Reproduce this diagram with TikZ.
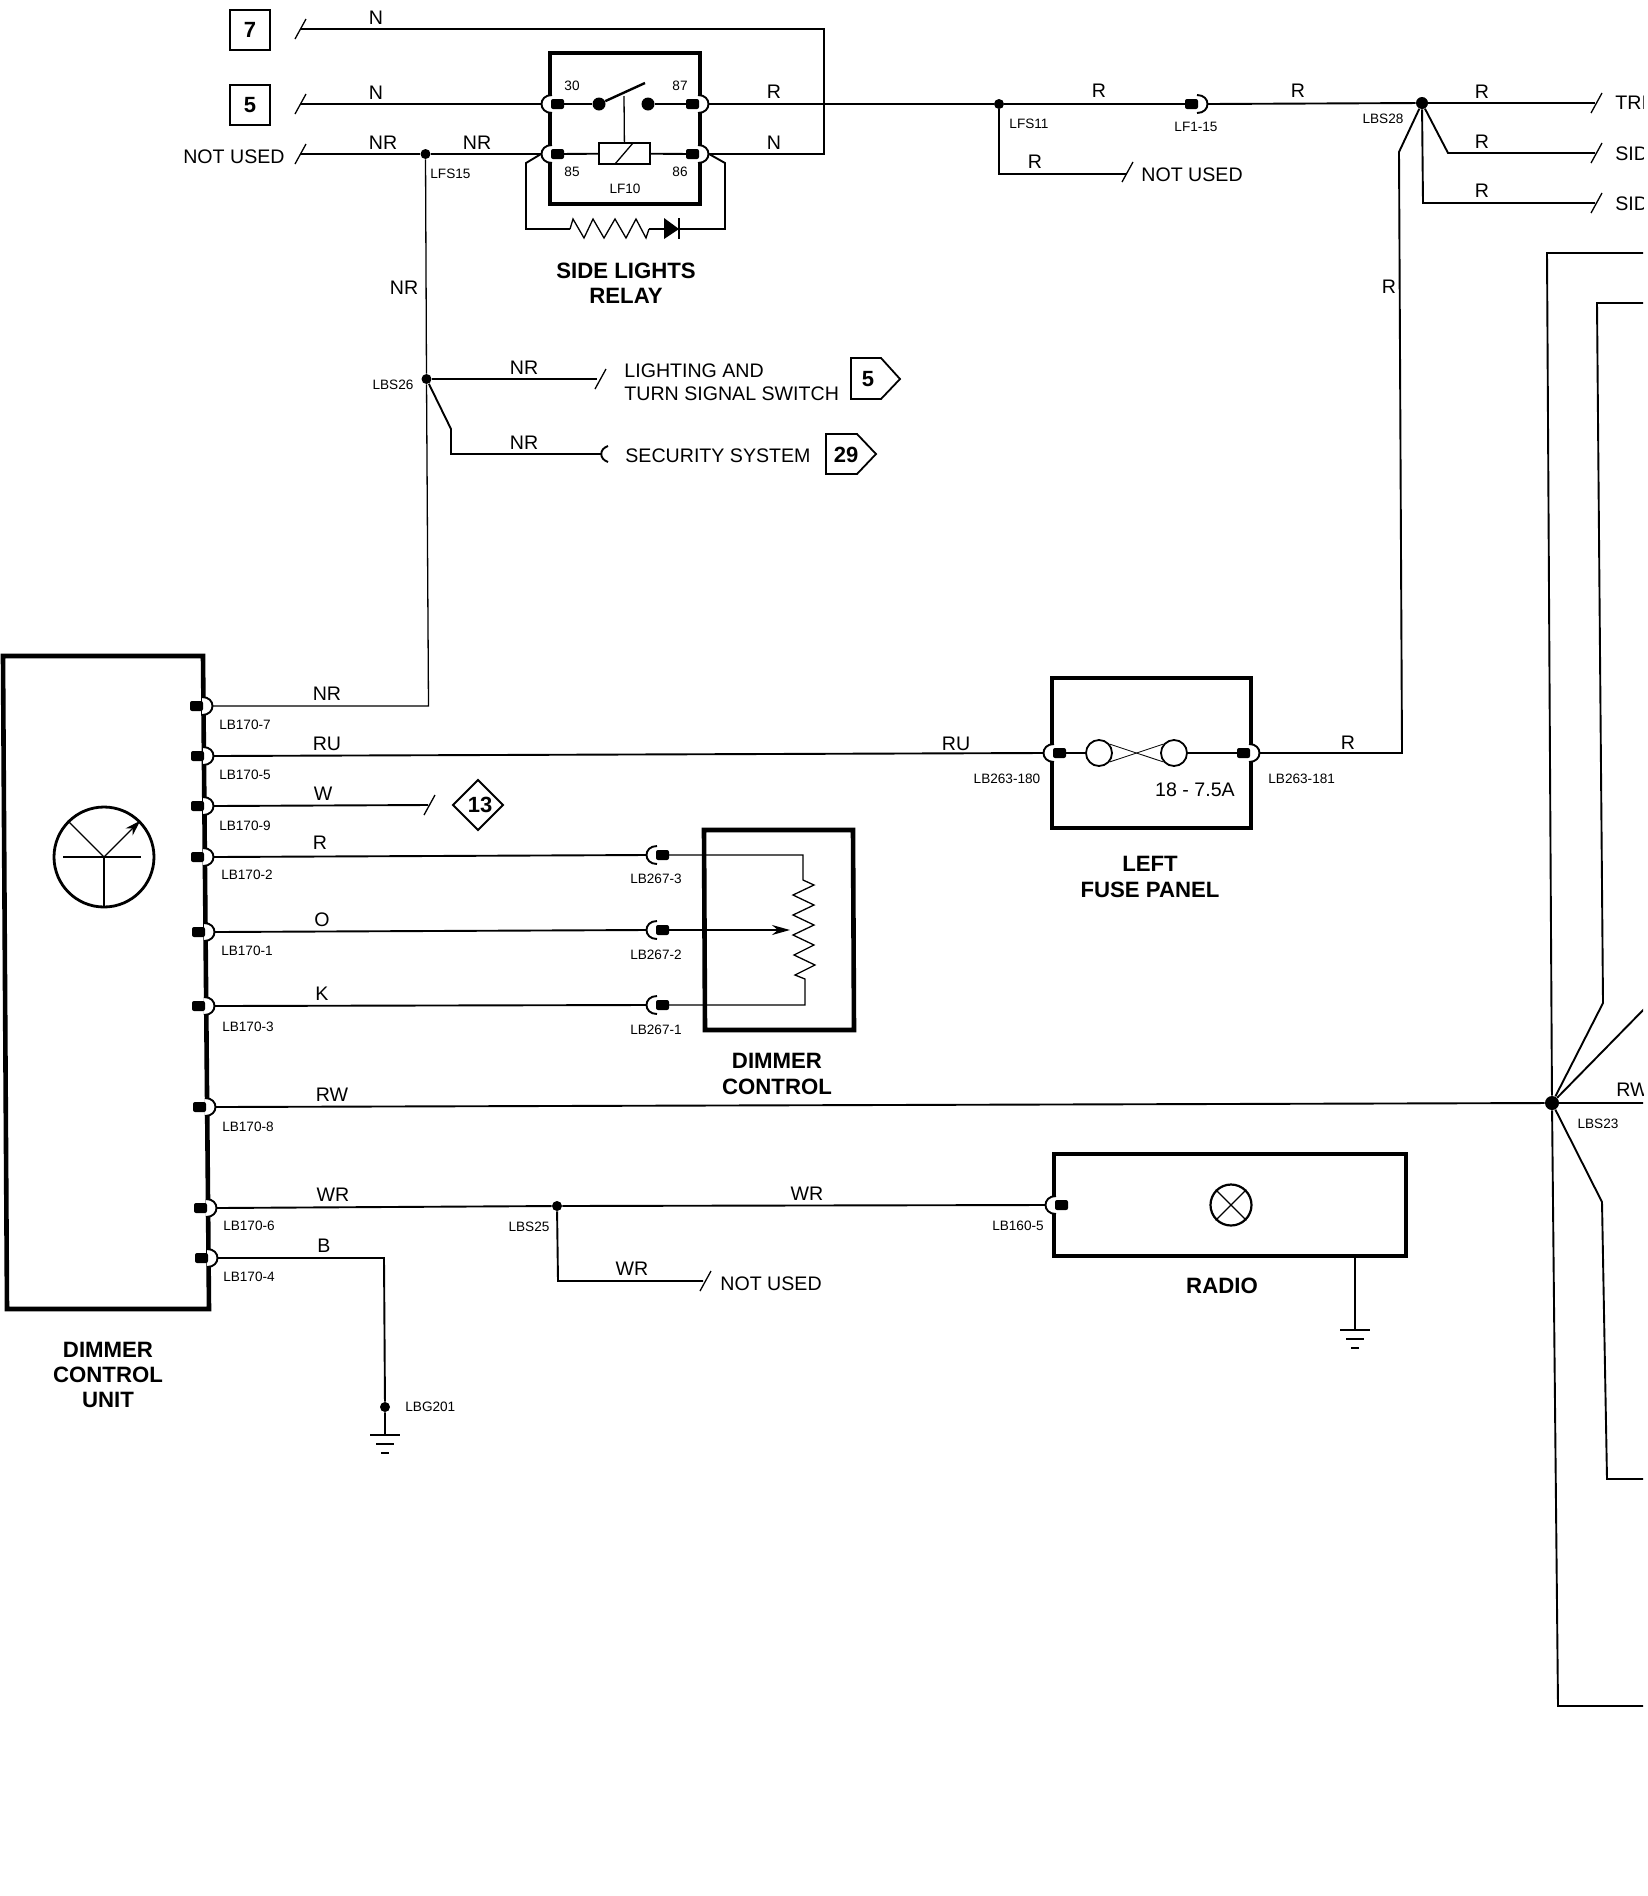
\documentclass[tikz,border=0pt]{standalone}
\usepackage{fontspec}
\setmainfont{Liberation Sans}
\usetikzlibrary{arrows.meta}
\tikzset{
  wirelab/.style={inner sep=0pt, font=\fontsize{9.8}{11.9}\selectfont},
  tinylab/.style={inner sep=0pt, font=\fontsize{6.8}{8}\selectfont},
  bigtitle/.style={inner sep=0pt, align=center, font=\fontsize{11.1}{12.6}\selectfont\bfseries},
  refnum/.style={inner sep=0pt, font=\fontsize{11}{12}\selectfont\bfseries},
  refbox/.style={draw, line width=0.9pt, minimum size=20pt, inner sep=0pt, font=\fontsize{11}{12}\selectfont\bfseries},
  wire/.style={line width=0.95pt, line join=miter},
  thinwire/.style={line width=0.65pt},
  compbox/.style={line width=2.3pt, line join=miter},
  joint/.style={circle, fill=black, inner sep=0pt, minimum size=5pt},
  contact/.style={circle, fill=black, inner sep=0pt, minimum size=6.5pt},
  fusering/.style={circle, draw, line width=0.9pt, inner sep=0pt, minimum size=13pt},
  pics/wiretick/.style={code={\draw[thinwire] (-5,10) -- (6,-10);}},
  pics/pinright/.style={code={
    \fill[white] (-2,-9) .. controls (12,-9) and (12,9) .. (-2,9) -- cycle;
    \draw[wire] (-2,-9) .. controls (12,-9) and (12,9) .. (-2,9);
    \fill[black, rounded corners=1pt] (-14,-5) rectangle (-1,5);}},
  pics/pinleft/.style={code={
    \fill[white] (2,-9) .. controls (-12,-9) and (-12,9) .. (2,9) -- cycle;
    \draw[wire] (2,-9) .. controls (-12,-9) and (-12,9) .. (2,9);
    \fill[black, rounded corners=1pt] (1,-5) rectangle (14,5);}},
  pics/groundsym/.style={code={
    \draw[wire] (-15,0) -- (15,0);
    \draw[wire] (-9,9) -- (9,9);
    \draw[wire] (-4,18) -- (4,18);}}
}
\begin{document}
\begin{tikzpicture}[x=0.5pt,y=-0.5pt]
\useasboundingbox (0,0) rectangle (1648,1896);

\draw[compbox] (550,53) rectangle (700,204);
\draw[compbox] (3,656) -- (203,656) -- (209,1309) -- (7,1309) -- cycle;
\draw[compbox] (704,830) -- (853,830) -- (854,1030) -- (705,1030) -- cycle;
\draw[compbox] (1052,678) rectangle (1251,828);
\draw[compbox] (1054,1154) rectangle (1406,1256);

\pic at (550,104) {pinleft};
\pic at (550,154) {pinleft};
\pic at (700,104) {pinright};
\pic at (700,154) {pinright};
\pic at (204,706) {pinright};
\pic at (205,756) {pinright};
\pic at (205,806) {pinright};
\pic at (205,857) {pinright};
\pic at (206,932) {pinright};
\pic at (206,1006) {pinright};
\pic at (207,1107) {pinright};
\pic at (208,1208) {pinright};
\pic at (209,1258) {pinright};
\pic at (1052,753) {pinleft};
\pic at (1251,753) {pinright};
\pic at (1054,1205) {pinleft};
\pic at (1199,104) {pinright};
\pic at (655,855) {pinleft};
\pic at (655,930) {pinleft};
\pic at (655,1005) {pinleft};

\coordinate (w7) at (300,29);
\coordinate (w5) at (300,104);
\coordinate (wnu) at (300,154);
\coordinate (t30) at (541,104);
\coordinate (t85) at (541,154);
\coordinate (t87) at (709,104);
\coordinate (t86) at (709,154);
\coordinate (i30) at (560,104);
\coordinate (i85) at (560,154);
\coordinate (i87) at (690,104);
\coordinate (i86) at (690,154);
\coordinate (u7) at (213,706);
\coordinate (u5) at (214,756);
\coordinate (u9) at (214,806);
\coordinate (u2) at (214,857);
\coordinate (u1) at (215,932);
\coordinate (u3) at (215,1006);
\coordinate (u8) at (216,1107);
\coordinate (u6) at (217,1208);
\coordinate (u4) at (218,1258);
\coordinate (fl) at (1043,753);
\coordinate (fr) at (1260,753);
\coordinate (fli) at (1060,753);
\coordinate (fri) at (1240,753);
\coordinate (rd) at (1045,1205);
\coordinate (lfa) at (1190,104);
\coordinate (lfb) at (1208,104);
\coordinate (d3) at (646,855);
\coordinate (d2) at (646,930);
\coordinate (d1) at (646,1005);
\coordinate (d3i) at (665,855);
\coordinate (d2i) at (665,930);
\coordinate (d1i) at (665,1005);

\node[joint] (lfs15) at (425.5,154) {};
\node[joint] (lbs26) at (426.5,379) {};
\node[joint] (lfs11) at (999,104) {};
\node[joint, minimum size=6pt] (lbs28) at (1422,103) {};
\node[joint, minimum size=7pt] (lbs23) at (1552,1103) {};
\node[joint] (lbs25) at (557,1206) {};
\node[joint] (lbg201) at (385,1407) {};

\draw[wire] (w7) -- (824,29) -- (824,154) -- (t86);
\draw[wire] (w5) -- (t30);
\draw[wire] (wnu) -- (lfs15) -- (t85);
\draw[wire] (t87) -- (lfs11) -- (lfa);
\draw[wire] (lfb) -- (lbs28);
\draw[wire] (lfs11) -- (999,174) -- (1127,174);
\draw[thinwire] (lfs15) -- (lbs26);
\draw[thinwire] (lbs26) -- (428.5,706) -- (u7);
\draw[wire] (lbs26) -- (597,379);
\draw[wire] (lbs26) -- (451,429) -- (451,454) -- (601,454);
\draw[wire] (lbs28) -- (1399,152) -- (1402,753) -- (fr);
\draw[wire] (lbs28) -- (1448,153) -- (1595,153);
\draw[wire] (lbs28) -- (1423,203) -- (1595,203);
\draw[wire] (lbs28) -- (1595,103);
\draw[wire] (u5) -- (fl);
\draw[wire] (u9) -- (428,805);
\draw[wire] (u2) -- (d3);
\draw[wire] (u1) -- (d2);
\draw[wire] (u3) -- (d1);
\draw[wire] (u8) -- (lbs23);
\draw[wire] (u6) -- (lbs25) -- (rd);
\draw[wire] (lbs25) -- (558,1281) -- (703,1281);
\draw[wire] (u4) -- (384,1258) -- (lbg201) -- (385,1434);
\draw[wire] (1355,1256) -- (1355,1329);

\pic at (w7) {wiretick};
\pic at (w5) {wiretick};
\pic at (wnu) {wiretick};
\pic at (1127,172) {wiretick};
\pic at (600,379) {wiretick};
\pic at (1596,103) {wiretick};
\pic at (1596,153) {wiretick};
\pic at (1596,203) {wiretick};
\pic at (429,805) {wiretick};
\pic at (705,1281) {wiretick};
\pic at (1355,1330) {groundsym};
\pic at (385,1435) {groundsym};

\draw[wire] (608,446) .. controls (599,449) and (599,459) .. (608,462);

\node[contact] (k30) at (599,104) {};
\node[contact] (k87) at (648,104) {};
\node[draw, line width=0.85pt, minimum width=25.5pt, minimum height=10.5pt, inner sep=0pt] (coil) at (624.5,153.5) {};
\draw[wire] (i30) -- (k30);
\draw[wire] (k87) -- (i87);
\draw[wire] (i85) -- (coil);
\draw[wire] (coil) -- (i86);
\draw[line width=1.2pt] (k30) -- (645,83);
\draw[thinwire] (624,96) -- (coil);
\draw[thinwire] (615,164) -- (633,143);

\draw[wire] (t85) -- (526,163) -- (526,229) -- (570,229);
\draw[thinwire] (570,229) -- (573,219) -- (584,238) -- (593,219) -- (604,238) -- (615,219) -- (626,238) -- (636,219) -- (646,238) -- (649,229);
\draw[wire] (649,229) -- (664,229);
\draw[wire] (679,229) -- (725,229) -- (725,163) -- (t86);
\fill (664,218) -- (679,229) -- (664,239) -- cycle;
\draw[wire] (679,218) -- (679,239);

\node[fusering] (fa) at (1099,753) {};
\node[fusering] (fb) at (1174,753) {};
\draw[wire] (fli) -- (fa);
\draw[line width=1.1pt] (fb) -- (fri);
\draw[line width=0.4pt] (fa.40) -- (fb.220);
\draw[line width=0.4pt] (fa.-40) -- (fb.140);

\node[circle, draw, line width=1.1pt, inner sep=0pt, minimum size=20.5pt] (lamp) at (1231,1205) {};
\draw[thinwire] (lamp.45) -- (lamp.225);
\draw[thinwire] (lamp.135) -- (lamp.-45);

\node[circle, draw, line width=1.4pt, inner sep=0pt, minimum size=50pt] (gauge) at (104,857) {};
\coordinate (gc) at (104,857);
\draw[line width=1.2pt] (63,857) -- (141,857);
\draw[thinwire] (gc) -- (gauge.south);
\draw[thinwire] (gc) -- (gauge.135);
\draw[thinwire, -{Stealth[length=8pt,width=5pt]}] (gc) -- (gauge.45);

\draw[thinwire] (d3i) -- (803,855) -- (803,880) -- (814,885) -- (793,895) -- (814,905) -- (793,915) -- (814,925) -- (793,935) -- (814,945) -- (794,955) -- (815,965) -- (795,975) -- (805,979) -- (805,1005) -- (d1i);
\draw[wire, -{Stealth[length=9pt,width=5pt]}] (d2i) -- (790,930);

\draw[line width=0.9pt] (851,358) -- (881,358) -- (900,379) -- (881,399) -- (851,399) -- cycle;
\draw[line width=0.9pt] (826,434) -- (857,434) -- (876,454) -- (857,474) -- (826,474) -- cycle;
\draw[line width=0.9pt] (478,780) -- (503,805) -- (478,830) -- (453,805) -- cycle;

\node[refbox] (box7) at (250,30) {7};
\node[refbox] (box5) at (250,105) {5};
\node[refnum] (ref5) at (868,379) {5};
\node[refnum] (ref29) at (846,455) {29};
\node[refnum] (ref13) at (480,805) {13};

\node[wirelab] (lN7) at (376,18) {N};
\node[wirelab] (lN5) at (376,93) {N};
\node[wirelab] (lNRa) at (383,143) {NR};
\node[wirelab] (lNRb) at (477,143) {NR};
\node[wirelab, anchor=east] (lNUa) at (285,157) {NOT USED};
\node[wirelab] (lRa) at (774,92) {R};
\node[wirelab] (lNa) at (774,143) {N};
\node[wirelab] (lNRc) at (404,288) {NR};
\node[wirelab] (lNRd) at (524,368) {NR};
\node[wirelab] (lNRe) at (524,443) {NR};
\node[wirelab] (lRb) at (1099,91) {R};
\node[wirelab] (lRc) at (1035,162) {R};
\node[wirelab] (lRd) at (1298,91) {R};
\node[wirelab] (lRe) at (1389,287) {R};
\node[wirelab] (lRf) at (1482,92) {R};
\node[wirelab] (lRg) at (1482,142) {R};
\node[wirelab] (lRh) at (1482,191) {R};
\node[wirelab, anchor=west] (lNUb) at (1141,175) {NOT USED};
\node[wirelab, anchor=west, align=left] (lSw) at (624,382) {LIGHTING AND\\[-0.2pt]TURN SIGNAL SWITCH};
\node[wirelab, anchor=west] (lSec) at (625,456) {SECURITY SYSTEM};
\node[wirelab] (lNRu) at (327,694) {NR};
\node[wirelab] (lRU) at (327,744) {RU};
\node[wirelab] (lW) at (323,794) {W};
\node[wirelab] (lRu) at (320,843) {R};
\node[wirelab] (lO) at (322,920) {O};
\node[wirelab] (lK) at (322,994) {K};
\node[wirelab] (lRW) at (332,1095) {RW};
\node[wirelab] (lWRa) at (333,1195) {WR};
\node[wirelab] (lB) at (324,1246) {B};
\node[wirelab] (lRUb) at (956,744) {RU};
\node[wirelab] (lRi) at (1348,743) {R};
\node[wirelab] (lFuse) at (1195,790) {18 - 7.5A};
\node[wirelab] (lWRb) at (807,1194) {WR};
\node[wirelab] (lWRc) at (632,1269) {WR};
\node[wirelab, anchor=west] (lNUc) at (720,1284) {NOT USED};

\node[tinylab] (n30) at (572,86) {30};
\node[tinylab] (n87) at (680,86) {87};
\node[tinylab] (n85) at (572,172) {85};
\node[tinylab] (n86) at (680,172) {86};
\node[tinylab] (nLF10) at (625,189) {LF10};
\node[tinylab, anchor=west] (nLFS15) at (430,174) {LFS15};
\node[tinylab] (nLFS11) at (1029,124) {LFS11};
\node[tinylab] (nLF115) at (1196,127) {LF1-15};
\node[tinylab] (nLBS28) at (1383,119) {LBS28};
\node[tinylab] (nLBS26) at (393,385) {LBS26};
\node[tinylab] (nLBS23) at (1598,1124) {LBS23};
\node[tinylab] (nLBS25) at (529,1227) {LBS25};
\node[tinylab] (nu7) at (245,725) {LB170-7};
\node[tinylab] (nu5) at (245,775) {LB170-5};
\node[tinylab] (nu9) at (245,826) {LB170-9};
\node[tinylab] (nu2) at (247,875) {LB170-2};
\node[tinylab] (nu1) at (247,951) {LB170-1};
\node[tinylab] (nu3) at (248,1027) {LB170-3};
\node[tinylab] (nu8) at (248,1127) {LB170-8};
\node[tinylab] (nu6) at (249,1226) {LB170-6};
\node[tinylab] (nu4) at (249,1277) {LB170-4};
\node[tinylab] (nd3) at (656,879) {LB267-3};
\node[tinylab] (nd2) at (656,955) {LB267-2};
\node[tinylab] (nd1) at (656,1030) {LB267-1};
\node[tinylab] (nf180) at (1007,779) {LB263-180};
\node[tinylab, anchor=west] (nf181) at (1268,779) {LB263-181};
\node[tinylab] (nr5) at (1018,1226) {LB160-5};
\node[tinylab, anchor=west] (ng201) at (405,1407) {LBG201};

\node[bigtitle] (tRelay) at (626,283) {SIDE LIGHTS\\RELAY};
\node[bigtitle] (tFuse) at (1150,877) {LEFT\\FUSE PANEL};
\node[bigtitle] (tDimc) at (777,1074) {DIMMER\\CONTROL};
\node[bigtitle] (tUnit) at (108,1375) {DIMMER\\CONTROL\\UNIT};
\node[bigtitle] (tRadio) at (1222,1286) {RADIO};

\begin{scope}
\clip (0,0) rectangle (1643,1896);
\draw[wire] (1643,253) -- (1547,253) -- (lbs23);
\draw[wire] (1643,303) -- (1597,303) -- (1603,1003) -- (lbs23);
\draw[wire] (1650,1003) -- (lbs23);
\draw[wire] (lbs23) -- (1650,1103);
\draw[wire] (lbs23) -- (1602,1202) -- (1607,1479) -- (1650,1479);
\draw[wire] (lbs23) -- (1558,1706) -- (1650,1706);
\node[wirelab, anchor=west] (lTRI) at (1615,103) {TRI};
\node[wirelab, anchor=west] (lSIDa) at (1615,154) {SID};
\node[wirelab, anchor=west] (lSIDb) at (1615,204) {SID};
\node[wirelab, anchor=west] (lRWr) at (1616,1090) {RW};
\end{scope}
\end{tikzpicture}
\end{document}
